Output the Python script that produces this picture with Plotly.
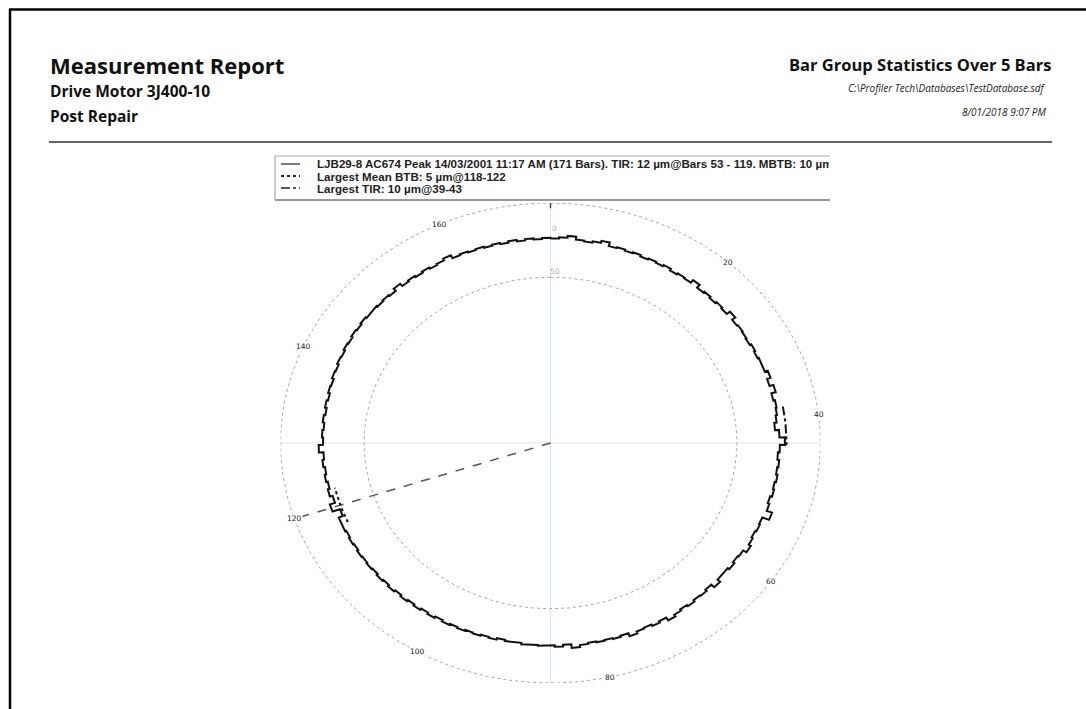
import numpy as np
import plotly.graph_objects as go

# ---------------- data ----------------
N_BARS = 171
# profile value of each bar (µm), bars 1..171, clockwise from top
bar_values = [
    5.0, 3.6, 1.5, 4.9, 6.0, 4.4, 2.0, 6.2, 5.1, 6.4,
    5.3, 6.9, 5.6, 6.8, 5.2, 7.3, 5.9, 6.7, 3.0, 7.2,
    5.8, 7.4, 5.6, 6.9, 2.6, 6.8, 5.7, 6.6, 7.5, 5.8,
    7.2, 5.9, 6.4, 3.2, 7.0, 2.8, 7.4, 5.6, 6.6, 8.0,
    10.4, 6.2, 0.6, 5.8, 7.6, 5.7, 6.9, 5.4, 6.8, 5.6,
    7.6, 5.9, 0.0, 7.5, 6.6, 7.9, 6.4, 3.8, 7.8, 8.9,
    7.0, 9.0, 8.2, 4.6, 8.9, 7.0, 7.8, 6.0, 7.6, 5.8,
    3.4, 7.2, 5.5, 7.5, 6.4, 3.9, 7.4, 6.1, 7.2, 6.3,
    7.3, 6.0, 3.6, 7.9, 6.0, 7.6, 6.8, 7.7, 6.9, 8.6,
    7.8, 9.3, 7.6, 8.6, 7.5, 8.4, 7.2, 8.3, 7.0, 8.7,
    6.9, 8.5, 6.8, 8.3, 6.6, 8.2, 6.4, 8.0, 6.6, 8.1,
    6.9, 7.8, 7.0, 8.3, 7.2, 8.4, 7.1, 7.5, 12.0, 4.0,
    9.5, 6.5, 8.4, 6.6, 8.2, 6.4, 8.0, 3.3, 7.8, 6.6,
    7.9, 6.3, 8.0, 6.2, 7.7, 5.8, 6.7, 4.9, 5.7, 4.0,
    4.9, 3.2, 4.2, 2.6, 3.7, 2.4, 3.6, 2.8, 3.9, 3.0,
    4.4, 1.2, 4.6, 3.3, 4.9, 3.4, 5.1, 3.8, 1.5, 5.4,
    4.3, 5.6, 4.5, 5.8, 4.6, 5.9, 4.2, 5.9, 4.4, 5.5,
    4.3,
]
bar_tick_labels = [20, 40, 60, 80, 100, 120, 140, 160]
radial_tick_values = [0, 50]
mean_btb_bars = [118, 122]     # largest mean bar-to-bar group
mean_btb_level = 14            # µm level of the group marker
tir_bars = [39, 43]            # largest TIR group
tir_level = -1                 # µm level of the group marker
outer_ring_level = -36         # µm level of the outer frame ring
inner_ring_level = 50          # µm level of the inner grid ring

legend_labels = [
    "LJB29-8 AC674 Peak 14/03/2001 11:17 AM (171 Bars). TIR: 12 µm@Bars 53 - 119. MBTB: 10 µm",
    "Largest Mean BTB: 5 µm@118-122",
    "Largest TIR: 10 µm@39-43",
]

# ---------------- geometry (radial scale) ----------------
ZERO_RADIUS = 242.0   # plot radius of the 0 µm level (values increase inward)


def to_xy(bar_pos, level):
    bar_pos = np.asarray(bar_pos, dtype=float)
    level = np.asarray(level, dtype=float)
    ang = bar_pos * 2 * np.pi / N_BARS
    rho = ZERO_RADIUS - level
    return rho * np.sin(ang), rho * np.cos(ang)


R_OUT = ZERO_RADIUS - outer_ring_level

W, H = 1086, 709


def px(x):
    return x / W


def py(y):
    return 1 - y / H


fig = go.Figure()

# crosshair
cx, cy = to_xy([0, N_BARS / 2], [outer_ring_level] * 2)
fig.add_trace(go.Scatter(x=cx, y=cy, mode="lines", line=dict(color="#d9e6eb", width=1.2), hoverinfo="skip"))
cx, cy = to_xy([N_BARS / 4, 3 * N_BARS / 4], [outer_ring_level] * 2)
fig.add_trace(go.Scatter(x=cx, y=cy, mode="lines", line=dict(color="#d9e6eb", width=1.2), hoverinfo="skip"))

# rings
ring_pos = np.linspace(0, N_BARS, 721)
for lvl in (outer_ring_level, inner_ring_level):
    rx, ry = to_xy(ring_pos, np.full_like(ring_pos, lvl))
    fig.add_trace(go.Scatter(x=rx, y=ry, mode="lines",
                             line=dict(color="#a8a8a8", width=1, dash="dot"), hoverinfo="skip"))

# top tick of the vertical axis
tkx, tky = to_xy([0, 0], [outer_ring_level, outer_ring_level + 6])
fig.add_trace(go.Scatter(x=tkx, y=tky, mode="lines", line=dict(color="#444444", width=1.5), hoverinfo="skip"))

# direction line to largest mean BTB group
mid = (mean_btb_bars[0] + mean_btb_bars[1]) / 2 - 0.5
lx, ly = to_xy([mid, mid], [ZERO_RADIUS, outer_ring_level])
fig.add_trace(go.Scatter(x=lx, y=ly, mode="lines",
                         line=dict(color="#555555", width=1.5, dash="dash"), hoverinfo="skip"))

# profile (stepped per bar)
px_list, lv_list = [], []
for i, v in enumerate(bar_values):
    seg = np.linspace(i, i + 1, 6)
    px_list.append(seg)
    lv_list.append(np.full(6, v))
px_list.append(np.array([0.0]))
lv_list.append(np.array([bar_values[0]]))
bx, by = to_xy(np.concatenate(px_list), np.concatenate(lv_list))
fig.add_trace(go.Scatter(x=bx, y=by, mode="lines", line=dict(color="#111111", width=2), hoverinfo="skip"))

# largest mean BTB marker (dotted)
seg = np.linspace(mean_btb_bars[0] - 1, mean_btb_bars[1], 30)
mx, my = to_xy(seg, np.full_like(seg, mean_btb_level))
fig.add_trace(go.Scatter(x=mx, y=my, mode="lines", line=dict(color="#111111", width=2, dash="dot"), hoverinfo="skip"))

# largest TIR marker (dash-dot)
seg = np.linspace(tir_bars[0] - 1, tir_bars[1], 30)
tx, ty = to_xy(seg, np.full_like(seg, tir_level))
fig.add_trace(go.Scatter(x=tx, y=ty, mode="lines", line=dict(color="#111111", width=2, dash="dashdot"), hoverinfo="skip"))

annotations = []
# bar number labels
for k in bar_tick_labels:
    ax_, ay_ = to_xy(k - 0.5, outer_ring_level)
    annotations.append(dict(x=float(ax_), y=float(ay_), xref="x", yref="y", text=str(k), showarrow=False,
                            font=dict(family="DejaVu Sans", size=7.5, color="#222222"),
                            bgcolor="white", borderpad=0))
# radial labels
for v in radial_tick_values:
    ax_, ay_ = to_xy(0, v)
    annotations.append(dict(x=float(ax_), y=float(ay_), xref="x", yref="y", text=str(v), showarrow=False,
                            xshift=4, yanchor="bottom",
                            font=dict(family="DejaVu Sans", size=7.5, color="#aaaaaa"), borderpad=0))

HF = "Open Sans"
# header
header = [
    dict(x=px(48), y=py(65), text="<b>Measurement Report</b>", xanchor="left",
         font=dict(family=HF, size=22, color="#111111")),
    dict(x=px(48), y=py(91), text="<b>Drive Motor 3J400-10</b>", xanchor="left",
         font=dict(family=HF, size=15.5, color="#111111")),
    dict(x=px(48), y=py(116), text="<b>Post Repair</b>", xanchor="left",
         font=dict(family=HF, size=15.5, color="#111111")),
    dict(x=px(1053), y=py(65), text="<b>Bar Group Statistics Over 5 Bars</b>", xanchor="right",
         font=dict(family=HF, size=16.5, color="#111111")),
    dict(x=px(1048), y=py(88), text="<i>C:\\Profiler Tech\\Databases\\TestDatabase.sdf</i>", xanchor="right",
         font=dict(family=HF, size=10, color="#222222")),
    dict(x=px(1048), y=py(112), text="<i>8/01/2018 9:07 PM</i>", xanchor="right",
         font=dict(family=HF, size=10, color="#222222")),
]
for a in header:
    a.update(xref="paper", yref="paper", showarrow=False, yanchor="middle")
annotations += header

# legend texts
leg_rows = [164, 176, 188]
for txt, yy in zip(legend_labels, leg_rows):
    annotations.append(dict(x=px(316), y=py(yy), xref="paper", yref="paper", text="<b>" + txt + "</b>",
                            showarrow=False, xanchor="left", yanchor="middle", align="left",
                            width=512, borderpad=0,
                            font=dict(family="Liberation Sans", size=11.6, color="#222222")))

shapes = [
    # page border
    dict(type="line", xref="paper", yref="paper", x0=px(9), x1=1, y0=py(9.5), y1=py(9.5),
         line=dict(color="black", width=2.5)),
    dict(type="line", xref="paper", yref="paper", x0=px(10), x1=px(10), y0=py(9), y1=0,
         line=dict(color="black", width=2.5)),
    # header rule
    dict(type="line", xref="paper", yref="paper", x0=px(49), x1=px(1052), y0=py(142), y1=py(142),
         line=dict(color="#333333", width=1.5)),
    # legend frame
    dict(type="line", xref="paper", yref="paper", x0=px(275), x1=px(830), y0=py(156), y1=py(156),
         line=dict(color="#aaaaaa", width=1.2)),
    dict(type="line", xref="paper", yref="paper", x0=px(275), x1=px(830), y0=py(200), y1=py(200),
         line=dict(color="#9a9a9a", width=1.8)),
    dict(type="line", xref="paper", yref="paper", x0=px(275), x1=px(275), y0=py(156), y1=py(200),
         line=dict(color="#aaaaaa", width=1.2)),
    # legend samples
    dict(type="line", xref="paper", yref="paper", x0=px(281), x1=px(300), y0=py(164), y1=py(164),
         line=dict(color="#222222", width=1.2)),
    dict(type="line", xref="paper", yref="paper", x0=px(281), x1=px(300), y0=py(176), y1=py(176),
         line=dict(color="#222222", width=1.8, dash="dot")),
    dict(type="line", xref="paper", yref="paper", x0=px(281), x1=px(300), y0=py(188), y1=py(188),
         line=dict(color="#222222", width=1.5, dash="dashdot")),
]

fig.update_layout(
    width=W, height=H, margin=dict(l=0, r=0, t=0, b=0),
    paper_bgcolor="white", plot_bgcolor="white", showlegend=False,
    xaxis=dict(domain=[px(280.5), px(820.5)], range=[-R_OUT, R_OUT], visible=False, fixedrange=True),
    yaxis=dict(domain=[py(683), py(203)], range=[-R_OUT, R_OUT], visible=False, fixedrange=True),
    annotations=annotations, shapes=shapes,
)
fig.write_html("out.html", config={"displayModeBar": False},
               post_script="document.body.style.margin='0px';")
